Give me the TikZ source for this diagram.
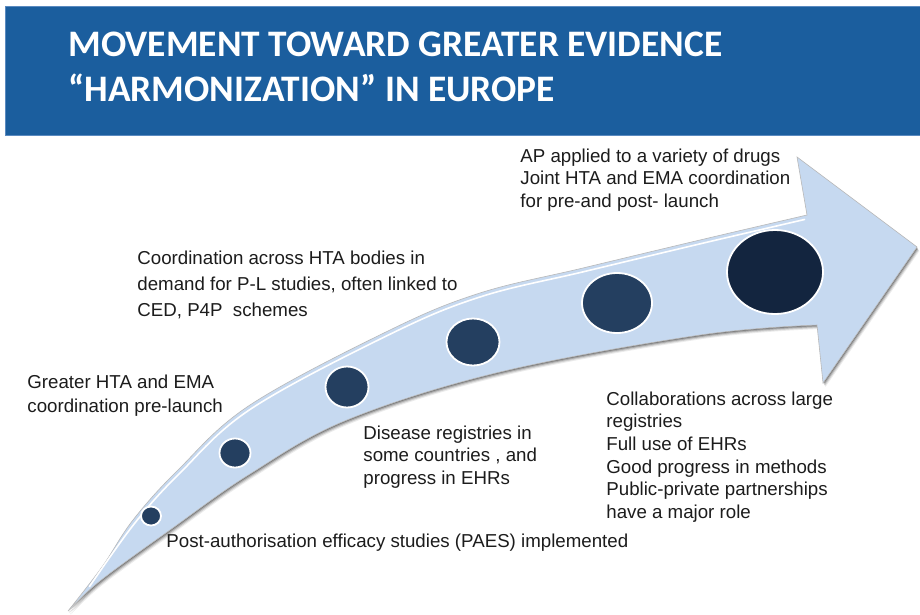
\documentclass[tikz,border=0pt]{standalone}
\usepackage{fontspec}
\setmainfont{Liberation Sans}
\newfontfamily\titlefont{Carlito}
\usetikzlibrary{shapes.geometric}

\definecolor{bandblue}{RGB}{27,94,158}
\definecolor{bandedge}{RGB}{90,138,192}
\definecolor{arrowblue}{RGB}{198,217,240}
\definecolor{dotblue}{RGB}{36,63,96}
\definecolor{darkdot}{RGB}{19,37,63}
\definecolor{textgray}{RGB}{28,28,28}

% outline of the big curved arrow (pixel units, y downwards)
\def\arrowpath{plot[smooth, tension=0.6] coordinates {(68,611) (102,567) (133,520) (178,470) (250,405) (390,330) (480,293) (583,268) (700,240) (807,215)}
  -- (797,157) -- (917,247) -- (823,383) -- (817,325)
  -- plot[smooth, tension=0.6] coordinates {(817,325) (700,335) (500,372) (347,420) (250,474) (170,530) (100,581) (68,611)} -- cycle}

\begin{document}
\begin{tikzpicture}[x=1pt, y=-1pt, thick,
    stage node/.style={ellipse,draw=white,line width=1.8pt,fill=dotblue,inner sep=0pt},
    label node/.style={anchor=north west,align=left,inner sep=0pt,text=textgray,
                       font=\fontsize{18.7}{22.6}\selectfont},
    title node/.style={anchor=base west,inner sep=0pt,text=white,
                       font=\titlefont\bfseries\fontsize{37.4}{44}\selectfont}]

  \useasboundingbox (0,0) rectangle (920,614);
  \fill[white] (0,0) rectangle (920,614);

  % header band
  \fill[bandblue] (5,6) rectangle (921,135);
  \draw[bandedge, line width=1pt] (921,6) -- (5,6) -- (5,135) -- (921,135);
  \node[title node] (title1) at (68,56) {MOVEMENT TOWARD GREATER EVIDENCE};
  \node[title node] (title2) at (68,101) {“HARMONIZATION” IN EUROPE};

  % arrow with soft shadow
  \foreach \d/\o in {4/0.08, 3/0.12, 2/0.18, 1/0.25}
    \fill[black, opacity=\o, shift={(0.6*\d,\d)}] \arrowpath;
  \fill[arrowblue, draw=gray!55, line width=0.6pt] \arrowpath;
  \draw[white, line width=1.6pt, line cap=round, shift={(1.5,3.5)}]
    plot[smooth, tension=0.6] coordinates {(88,583) (133,520) (178,470) (250,405) (390,330) (480,293) (583,268) (700,240) (803,216)};

  % stages along the arrow
  \node[stage node, minimum width=20pt, minimum height=19pt] (s1) at (151,516) {};
  \node[stage node, minimum width=31pt, minimum height=29pt] (s2) at (235,453) {};
  \node[stage node, minimum width=43pt, minimum height=41pt] (s3) at (347,387) {};
  \node[stage node, minimum width=53pt, minimum height=47pt] (s4) at (473,342) {};
  \node[stage node, minimum width=70pt, minimum height=60pt] (s5) at (617,303) {};
  \node[stage node, minimum width=96pt, minimum height=84pt, fill=darkdot] (s6) at (775,272) {};

  % labels
  \node[label node] (joint) at (520,148.4) {AP applied to a variety of drugs\\Joint HTA and EMA coordination\\for pre-and post- launch};
  \node[label node, font=\fontsize{18.7}{26}\selectfont] (coord) at (137,250.4) {Coordination across HTA bodies in\\demand for P-L studies, often linked to\\CED, P4P\ \ schemes};
  \node[label node, font=\fontsize{18.7}{24}\selectfont] (greater) at (27,374.8) {Greater HTA and EMA\\coordination pre-launch};
  \node[label node] (disease) at (363,425.4) {Disease registries in\\some countries , and\\progress in EHRs};
  \node[label node] (collab) at (606,391.4) {Collaborations across large\\registries\\Full use of EHRs\\Good progress in methods\\Public-private partnerships\\have a major role};
  \node[label node] (paes) at (166,533.4) {Post-authorisation efficacy studies (PAES) implemented};
\end{tikzpicture}
\end{document}
